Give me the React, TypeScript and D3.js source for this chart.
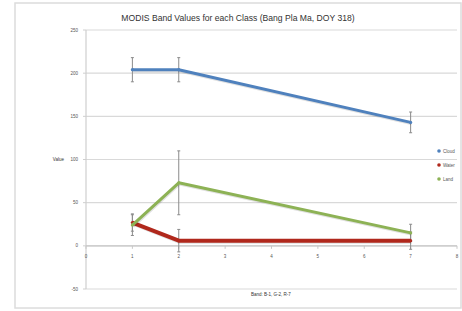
import * as d3 from 'd3';

const bands = [1, 2, 7];
const cloud = [204, 204, 143];
const cloudErr = [14, 14, 12];
const water = [27, 6, 6];
const waterErr = [10, 13, 10];
const land = [24, 73, 15];
const landErr = [12, 37, 10];

const xTicks = [0, 1, 2, 3, 4, 5, 6, 7, 8];
const yTicks = [-50, 0, 50, 100, 150, 200, 250];

const series = [
  { name: 'Cloud', values: cloud, err: cloudErr, color: '#4f81bd', width: 3 },
  { name: 'Water', values: water, err: waterErr, color: '#b0281c', width: 4 },
  { name: 'Land', values: land, err: landErr, color: '#8db255', width: 3 },
];

const W = 462;
const H = 311;
const font = '"Liberation Sans", Arial, sans-serif';

export default function App() {
  const x = d3.scaleLinear().domain([0, 8]).range([86, 457]);
  const y = d3.scaleLinear().domain([-50, 250]).range([289, 30]);

  const line = d3.line<number>()
    .x((_, i) => x(bands[i]))
    .y(d => y(d));

  return (
    <svg width={W} height={H} style={{ position: 'absolute', left: 0, top: 0, background: '#fff' }}>
      {/* chart frame */}
      <rect x={15} y={3} width={446} height={305} fill="#fff" stroke="#dcdcdc" strokeWidth={1.5} />

      <text x={238} y={21} textAnchor="middle" fontFamily={font} fontSize={8.6} fill="#333">
        MODIS Band Values for each Class (Bang Pla Ma, DOY 318)
      </text>

      {/* gridlines */}
      {yTicks.map(t => (
        <line key={t} x1={x(0)} x2={x(8)} y1={y(t)} y2={y(t)} stroke="#d9d9d9" strokeWidth={1.2} />
      ))}
      <line x1={x(0)} x2={x(0)} y1={y(250)} y2={y(-50)} stroke="#cfcfcf" strokeWidth={1.2} />
      {yTicks.map(t => (
        <g key={'yt' + t}>
          <line x1={x(0) - 3} x2={x(0)} y1={y(t)} y2={y(t)} stroke="#cfcfcf" />
          <text x={x(0) - 8} y={y(t) + 1.5} textAnchor="end" fontFamily={font} fontSize={4.5} fill="#555">{t}</text>
        </g>
      ))}

      {/* x axis at zero */}
      <line x1={x(0)} x2={x(8)} y1={y(0)} y2={y(0)} stroke="#c8c8c8" strokeWidth={1.2} />
      {xTicks.map(t => (
        <g key={'xt' + t}>
          <line x1={x(t)} x2={x(t)} y1={y(0)} y2={y(0) + 3} stroke="#c8c8c8" />
          <text x={x(t)} y={y(0) + 12} textAnchor="middle" fontFamily={font} fontSize={4.5} fill="#555">{t}</text>
        </g>
      ))}

      <text x={64} y={y(100) + 1.5} textAnchor="end" fontFamily={font} fontSize={4.5} fill="#333">Value</text>
      <text x={271} y={296} textAnchor="middle" fontFamily={font} fontSize={4.5} fill="#333">Band: B-1, G-2, R-7</text>

      {/* error bars */}
      {series.map(s => s.values.map((v, i) => (
        <g key={s.name + 'e' + i} stroke="#8a8a8a" strokeWidth={1}>
          <line x1={x(bands[i])} x2={x(bands[i])} y1={y(v + s.err[i])} y2={y(v - s.err[i])} />
          <line x1={x(bands[i]) - 1.5} x2={x(bands[i]) + 1.5} y1={y(v + s.err[i])} y2={y(v + s.err[i])} />
          <line x1={x(bands[i]) - 1.5} x2={x(bands[i]) + 1.5} y1={y(v - s.err[i])} y2={y(v - s.err[i])} />
        </g>
      )))}

      {/* lines */}
      {series.map(s => (
        <g key={s.name}>
          <path d={line(s.values) || ''} fill="none" stroke="#000" strokeOpacity={0.12} strokeWidth={s.width} transform="translate(0.8,1.2)" strokeLinejoin="round" />
          <path d={line(s.values) || ''} fill="none" stroke={s.color} strokeWidth={s.width} strokeLinejoin="round" />
          {s.values.map((v, i) => (
            <circle key={i} cx={x(bands[i])} cy={y(v)} r={1.6} fill={s.color} />
          ))}
        </g>
      ))}

      {/* legend */}
      {series.map((s, i) => (
        <g key={'lg' + s.name} transform={`translate(439, ${151 + i * 14})`}>
          <circle r={1.8} fill={s.color} />
          <text x={4} y={1.5} fontFamily={font} fontSize={4.5} fill="#555">{s.name}</text>
        </g>
      ))}
    </svg>
  );
}
